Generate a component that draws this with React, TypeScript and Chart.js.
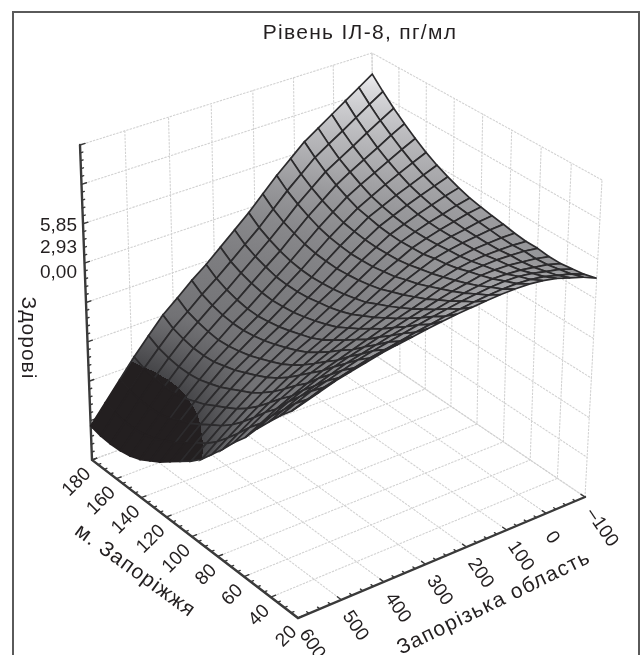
import React, { useEffect, useRef } from "react";
import { Chart, registerables } from "chart.js";

Chart.register(...registerables);

const titleText = "Рівень ІЛ-8, пг/мл";
const xAxisTitle = "Запорізька область";
const yAxisTitle = "м. Запоріжжя";
const zAxisTitle = "Здорові";

const zapTicks = [-100, 0, 100, 200, 300, 400, 500, 600];
const zapLabels = ["–100", "0", "100", "200", "300", "400", "500", "600"];
const cityTicks = [20, 40, 60, 80, 100, 120, 140, 160, 180];
const cityLabels = ["20", "40", "60", "80", "100", "120", "140", "160", "180"];
const heightTicks = [0, 12.5, 25, 37.5, 50, 62.5, 75, 87.5, 100];
const heightLabels = ["5,85", "2,93", "0,00"];

// Surface heights, one row per step of the city axis (20 to 180, step 8),
// one column per step of the oblast axis (-100 to 600, step 35).
const surfaceRows = [
  [69, 71, 72.5, 74, 75, 75.6, 75.8, 75.8, 75.6, 75.3, 75, 74.5, 74, 73.3, 72.7, 72, 71, 70, 69, 67.5, 66],
  [68, 69.8, 71, 72.3, 73.1, 73.5, 73.5, 73.3, 72.9, 72.4, 71.9, 71.2, 70.5, 69.6, 68.8, 68, 66.8, 65.6, 64.4, 62.7, 61],
  [67.5, 69, 70, 71.1, 71.8, 72, 71.8, 71.4, 70.9, 70.2, 69.5, 68.7, 67.8, 66.9, 66, 65, 63.6, 62.2, 60.9, 59, 57],
  [67, 68.3, 69.1, 69.9, 70.3, 70.5, 70, 69.4, 68.6, 67.7, 66.8, 65.8, 64.8, 63.7, 62.6, 61.5, 59.9, 58.3, 56.7, 54.6, 52.5],
  [67, 68, 68.6, 69.2, 69.4, 69.3, 68.5, 67.7, 66.7, 65.5, 64.4, 63.2, 62, 60.7, 59.5, 58.1, 56.4, 54.5, 52.6, 50.3, 48],
  [67.5, 68.2, 68.5, 68.7, 68.6, 68.3, 67.2, 66.2, 64.7, 63.3, 62, 60.5, 59, 57.5, 56, 54.5, 52.4, 50.3, 48.1, 45.5, 43],
  [67.5, 67.9, 68, 68, 67.7, 67.1, 66, 64.7, 63.1, 61.4, 59.9, 58.3, 56.6, 55, 53.2, 51.5, 49.3, 47, 44.6, 41.8, 39],
  [68, 68.1, 67.9, 67.7, 67.1, 66.3, 64.9, 63.3, 61.5, 59.6, 57.8, 55.9, 54.1, 52.2, 50.3, 48.4, 45.9, 43.4, 40.6, 37.6, 34.5],
  [68.7, 68.5, 68, 67.5, 66.8, 65.8, 64.1, 62.3, 60.2, 58, 56, 53.9, 51.8, 49.7, 47.5, 45.4, 42.7, 39.9, 36.9, 33.7, 30.5],
  [69.3, 68.9, 68.1, 67.4, 66.4, 65, 63.2, 61.1, 58.8, 56.3, 54.2, 51.9, 49.6, 47.4, 45.1, 42.8, 40, 36.9, 33.6, 30.1, 26.5],
  [70, 69.4, 68.4, 67.4, 66.2, 64.8, 62.6, 60.5, 57.9, 55.3, 52.9, 50.5, 47.9, 45.7, 43.1, 40.7, 37.6, 34.4, 30.9, 27.2, 23.5],
  [70.8, 69.9, 68.7, 67.6, 66.2, 64.6, 62.4, 59.9, 57.2, 54.4, 51.9, 49.3, 46.7, 44.3, 41.6, 39, 35.9, 32.4, 28.8, 25, 21],
  [72, 70.9, 69.5, 68.1, 66.5, 64.8, 62.3, 59.7, 56.8, 53.8, 51.2, 48.3, 45.6, 43, 40.2, 37.5, 34.1, 30.6, 26.6, 22.6, 18.5],
  [73.5, 72, 70.5, 68.9, 67.1, 65.2, 62.5, 59.6, 56.5, 53.4, 50.5, 47.5, 44.6, 41.9, 38.9, 36, 32.4, 28.7, 24.5, 20.3, 16],
  [75.2, 73.5, 71.7, 70, 68, 66, 63, 60, 56.7, 53.2, 50.2, 47.1, 44, 41.1, 38, 35, 31.2, 27.3, 23, 18.5, 14],
  [77.3, 75.4, 73.4, 71.4, 69.1, 66.8, 63.7, 60.6, 57, 53.4, 50.2, 46.8, 43.5, 40.6, 37.3, 34, 30.1, 26, 21.4, 16.7, 12],
  [79.8, 77.7, 75.4, 73.1, 70.8, 68.3, 65, 61.6, 57.8, 54, 50.5, 47.1, 43.6, 40.6, 37, 33.7, 29.6, 25.2, 20.3, 15.6, 10.7],
  [82.6, 80.3, 77.7, 75.3, 72.8, 70.1, 66.6, 63.1, 59.1, 55, 51.5, 47.9, 44.2, 41, 37.4, 33.8, 29.6, 25.1, 20.1, 15, 10],
  [85.7, 83.1, 80.5, 77.7, 75, 72.3, 68.6, 64.9, 60.6, 56.5, 52.7, 49, 45.2, 41.9, 38.2, 34.5, 30.1, 25.4, 20.3, 15, 9.8],
  [89.2, 86.4, 83.5, 80.6, 77.8, 74.9, 71, 67.1, 62.7, 58.3, 54.4, 50.5, 46.7, 43.2, 39.3, 35.6, 31, 26.2, 20.9, 15.5, 10],
  [93, 90, 87, 84, 81, 78, 74, 70, 65.5, 61, 57, 53, 49, 45.5, 41.5, 37.7, 32.7, 27.6, 22, 16.4, 10.8],
];

type P = { x: number; y: number };

function quadMap(p00: P, p10: P, p11: P, p01: P) {
  const dx1 = p10.x - p11.x, dx2 = p01.x - p11.x, sx = p00.x - p10.x + p11.x - p01.x;
  const dy1 = p10.y - p11.y, dy2 = p01.y - p11.y, sy = p00.y - p10.y + p11.y - p01.y;
  const den = dx1 * dy2 - dx2 * dy1;
  const g = (sx * dy2 - dx2 * sy) / den;
  const h = (dx1 * sy - sx * dy1) / den;
  const a = p10.x - p00.x + g * p10.x, b = p01.x - p00.x + h * p01.x, c = p00.x;
  const d = p10.y - p00.y + g * p10.y, e = p01.y - p00.y + h * p01.y, f = p00.y;
  return (u: number, v: number): P => {
    const w = g * u + h * v + 1;
    return { x: (a * u + b * v + c) / w, y: (d * u + e * v + f) / w };
  };
}

const floorMap = quadMap({ x: 585, y: 497 }, { x: 298, y: 618 }, { x: 92, y: 460 }, { x: 375, y: 355 });
const topMap = quadMap({ x: 602, y: 180 }, { x: 307, y: 292 }, { x: 80, y: 145 }, { x: 372, y: 53 });

const uOf = (zap: number) => (zap + 100) / 700;
const vOf = (city: number) => (city - 20) / 160;

function project(u: number, v: number, h: number): P {
  const a = floorMap(u, v), b = topMap(u, v), w = h / 100;
  return { x: a.x + (b.x - a.x) * w, y: a.y + (b.y - a.y) * w };
}

const darkLevel = 26.5;
const shadeStops: [number, number][] = [
  [26.5, 70], [30, 84], [34, 100], [38, 114], [44, 120], [52, 126], [60, 136],
  [68, 152], [74, 170], [80, 186], [86, 205], [90, 220], [93, 238],
];

function shade(h: number): string {
  if (h < darkLevel) return "#231f20";
  for (let k = 1; k < shadeStops.length; k++) {
    if (h <= shadeStops[k][0]) {
      const [h0, c0] = shadeStops[k - 1];
      const [h1, c1] = shadeStops[k];
      const c = Math.round(c0 + ((c1 - c0) * (h - h0)) / (h1 - h0));
      return `rgb(${c},${c},${c + 3})`;
    }
  }
  return "rgb(238,238,238)";
}

function cellFill(ctx: CanvasRenderingContext2D, pts: P[], hs: number[]) {
  const mean = (hs[0] + hs[1] + hs[2] + hs[3]) / 4;
  const e1 = { x: (pts[1].x + pts[2].x - pts[0].x - pts[3].x) / 2, y: (pts[1].y + pts[2].y - pts[0].y - pts[3].y) / 2 };
  const e2 = { x: (pts[3].x + pts[2].x - pts[0].x - pts[1].x) / 2, y: (pts[3].y + pts[2].y - pts[0].y - pts[1].y) / 2 };
  const d1 = (hs[1] + hs[2] - hs[0] - hs[3]) / 2;
  const d2 = (hs[3] + hs[2] - hs[0] - hs[1]) / 2;
  const det = e1.x * e2.y - e2.x * e1.y;
  const lo = Math.min(...hs), hi = Math.max(...hs);
  if (Math.abs(det) < 1 || hi - lo < 0.01) return shade(mean);
  const gx = (d1 * e2.y - d2 * e1.y) / det;
  const gy = (e1.x * d2 - e2.x * d1) / det;
  const n2 = gx * gx + gy * gy;
  if (n2 < 1e-6) return shade(mean);
  const cx = (pts[0].x + pts[1].x + pts[2].x + pts[3].x) / 4;
  const cy = (pts[0].y + pts[1].y + pts[2].y + pts[3].y) / 4;
  const at = (h: number) => ({ x: cx + (gx * (h - mean)) / n2, y: cy + (gy * (h - mean)) / n2 });
  const a = at(lo), b = at(hi);
  const grad = ctx.createLinearGradient(a.x, a.y, b.x, b.y);
  const span = hi - lo;
  const levels = [lo, hi, ...shadeStops.map((s) => s[0]).filter((h) => h > lo && h < hi)].sort((p, q) => p - q);
  for (const h of levels) {
    if (h === darkLevel) grad.addColorStop((h - lo) / span, "#231f20");
    grad.addColorStop((h - lo) / span, shade(h));
  }
  return grad;
}

function buildDatasets(ctx: CanvasRenderingContext2D): any[] {
  const sets: any[] = [];
  const line = (pts: P[], color: string, width: number, order: number, dash: number[] = []) => {
    sets.push({
      data: pts, borderColor: color, borderWidth: width, borderDash: dash, order,
      pointRadius: 0, fill: false, tension: 0, borderCapStyle: "round",
    });
  };
  const gridColor = "#d2d2d2";
  const gridDash = [1.5, 2];
  const GRID = 50000, AXIS = 40000;

  for (const h of heightTicks) {
    line([project(1, 1, h), project(0, 1, h), project(0, 0, h)], gridColor, 1.1, GRID, gridDash);
  }
  for (const z of zapTicks) {
    const u = uOf(z);
    line([project(u, 0, 0), project(u, 1, 0), project(u, 1, 100)], gridColor, 1.1, GRID, gridDash);
  }
  for (const c of cityTicks) {
    const v = vOf(c);
    line([project(1, v, 0), project(0, v, 0), project(0, v, 100)], gridColor, 1.1, GRID, gridDash);
  }

  const axisColor = "#3a3a3a";
  line([project(1, 1, 100), project(1, 1, 0), project(1, 0, 0), project(0, 0, 0)], axisColor, 2.4, AXIS);
  for (let k = 0; k <= 8; k++) {
    for (let n = 0; n < (k < 8 ? 5 : 1); n++) {
      const h = heightTicks[0] + (k + n / 5) * 12.5;
      const len = n === 0 ? 0.016 : 0.008;
      line([project(1, 1, h), project(1 - len, 1, h)], axisColor, 1.4, AXIS);
    }
  }
  for (let k = 0; k < cityTicks.length; k++) {
    for (let n = 0; n < (k < cityTicks.length - 1 ? 4 : 1); n++) {
      const v = vOf(cityTicks[k] + n * 5);
      const len = n === 0 ? 0.016 : 0.009;
      line([project(1, v, 0), project(1 - len, v, 0)], axisColor, 1.4, AXIS);
    }
  }
  for (let k = 0; k < zapTicks.length; k++) {
    for (let n = 0; n < (k < zapTicks.length - 1 ? 4 : 1); n++) {
      const u = uOf(zapTicks[k] + n * 25);
      const len = n === 0 ? 0.018 : 0.01;
      line([project(u, 0, 0), project(u, len, 0)], axisColor, 1.4, AXIS);
    }
  }

  const rows = surfaceRows.length - 1;
  const cols = surfaceRows[0].length - 1;
  let order = 30000;
  for (let j = rows - 1; j >= 0; j--) {
    for (let i = 0; i < cols; i++) {
      const n = (a: number, b: number) => project(a / cols, b / rows, surfaceRows[b][a]);
      const hs = [surfaceRows[j][i], surfaceRows[j][i + 1], surfaceRows[j + 1][i + 1], surfaceRows[j + 1][i]];
      const pts = [n(i, j), n(i + 1, j), n(i + 1, j + 1), n(i, j + 1)];
      sets.push({
        data: [...pts, pts[0]],
        fill: "shape",
        backgroundColor: cellFill(ctx, pts, hs),
        borderColor: Math.max(...hs) < darkLevel ? "#231f20" : "#2c2b2d",
        borderWidth: 1.7,
        pointRadius: 0,
        tension: 0,
        order: order--,
      });
    }
  }

  line([{ x: 13, y: 655 }, { x: 13, y: 12 }, { x: 639, y: 12 }, { x: 639, y: 655 }], "#5a5a5a", 2, 10);
  return sets;
}

const textFont = (size: number) => `${size}px "Liberation Sans", Arial, sans-serif`;

const labelPlugin = {
  id: "labels3d",
  afterDatasetsDraw(chart: any) {
    const { ctx, scales } = chart;
    const sx = (x: number) => scales.x.getPixelForValue(x);
    const sy = (y: number) => scales.y.getPixelForValue(y);
    const put = (t: string, x: number, y: number, deg: number, size: number, align: string, sp = 0) => {
      ctx.save();
      ctx.translate(sx(x), sy(y));
      ctx.rotate((deg * Math.PI) / 180);
      ctx.font = textFont(size);
      ctx.letterSpacing = `${sp}px`;
      ctx.fillStyle = "#231f20";
      ctx.textAlign = align;
      ctx.textBaseline = "middle";
      ctx.fillText(t, 0, 0);
      ctx.restore();
    };
    put(titleText, 360, 33, 0, 21, "center", 1.3);
    put(zAxisTitle, 28, 338, 90, 21, "center", 1);
    put(yAxisTitle, 135, 571, 36, 21, "center", 1.2);
    put(xAxisTitle, 494, 603, -26, 21, "center", 1.3);
    const zy = [226, 248, 273];
    heightLabels.forEach((t, k) => put(t, 77, zy[k], 0, 19, "right"));
    cityLabels.forEach((t, k) => {
      const p = project(1, vOf(cityTicks[k]), 0);
      put(t, p.x - 4, p.y + 11, -45, 19, "right");
    });
    zapLabels.forEach((t, k) => {
      const p = project(uOf(zapTicks[k]), 0, 0);
      const short = t.length === 1;
      put(t, p.x + (short ? 3 : 5), p.y + (short ? 20 : 13), 56, 19, "left");
    });
  },
};

export default function App() {
  const ref = useRef<HTMLCanvasElement>(null);
  useEffect(() => {
    document.body.style.margin = "0";
    const canvas = ref.current as HTMLCanvasElement;
    const chart = new Chart(canvas, {
      type: "line",
      data: { datasets: buildDatasets(canvas.getContext("2d") as CanvasRenderingContext2D) },
      plugins: [labelPlugin],
      options: {
        animation: false,
        responsive: false,
        events: [],
        layout: { padding: 0 },
        clip: false,
        plugins: { legend: { display: false }, tooltip: { enabled: false }, title: { display: false } },
        scales: {
          x: { type: "linear", min: 0, max: 640, display: false },
          y: { type: "linear", min: 0, max: 655, reverse: true, display: false },
        },
      } as any,
    });
    return () => chart.destroy();
  }, []);
  return <canvas ref={ref} width={640} height={655} style={{ display: "block", filter: "blur(0.4px)" }} />;
}
